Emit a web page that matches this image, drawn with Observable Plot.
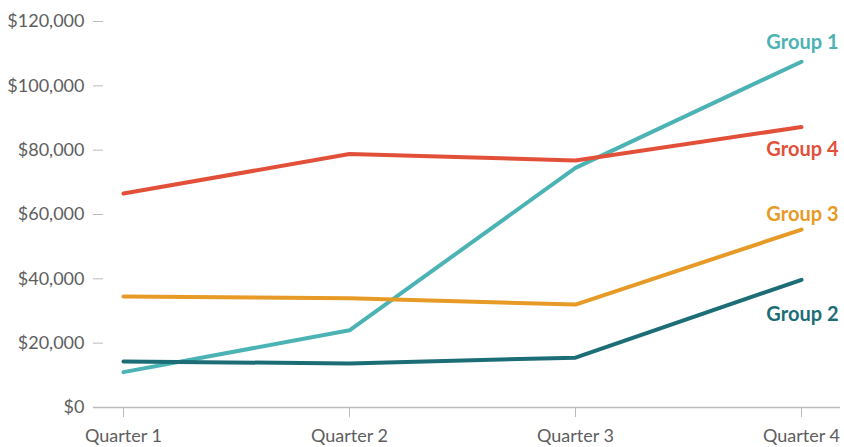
<!DOCTYPE html>
<html>
<head>
<meta charset="utf-8">
<script src="https://cdn.jsdelivr.net/npm/d3@7"></script>
<script src="https://cdn.jsdelivr.net/npm/@observablehq/plot@0.6"></script>
<style>
  html, body { margin: 0; padding: 0; background: #fff; }
  #chart svg { display: block; }
</style>
</head>
<body>
<div id="chart"></div>
<script>
// Quarterly totals per group (USD)
const quarters = ["Quarter 1", "Quarter 2", "Quarter 3", "Quarter 4"];
const groups = ["Group 1", "Group 2", "Group 3", "Group 4"];
const group1 = [11000, 24000, 74500, 107500];
const group2 = [14300, 13700, 15500, 39700];
const group3 = [34500, 34000, 32000, 55300];
const group4 = [66500, 78800, 76800, 87200];
const yTicks = [0, 20000, 40000, 60000, 80000, 100000, 120000];

const seriesValues = [group1, group2, group3, group4];
const colors = ["#4cb3b4", "#1c6d76", "#e79a26", "#e2503a"];
// vertical nudge of each end label relative to its line's last point
const labelDy = [-19, 35, -15, 23];

const rows = groups.flatMap((g, i) =>
  quarters.map((q, j) => ({group: g, quarter: q, value: seriesValues[i][j]}))
);
const ends = groups.map((g, i) => ({
  group: g, quarter: quarters[quarters.length - 1],
  value: seriesValues[i][quarters.length - 1], dy: labelDy[i]
}));

const fmt = d3.format("$,");

const chart = Plot.plot({
  width: 844,
  height: 447,
  marginLeft: 103,
  marginRight: 4,
  marginTop: 21,
  marginBottom: 40,
  style: {fontFamily: "Lato, sans-serif", fontSize: "18px", color: "#555", background: "#fff"},
  x: {type: "point", domain: quarters, padding: 0, insetLeft: 20, insetRight: 39, label: null},
  y: {domain: [0, 120000], label: null},
  color: {domain: groups, range: colors},
  marks: [
    Plot.axisY({ticks: yTicks, tickFormat: fmt, tickSize: 10, tickPadding: 9,
      stroke: "#bbb", fill: "#5e5e5e", fontSize: 18, fontWeight: 400}),
    Plot.axisX({tickSize: 10, tickPadding: 12, stroke: "#bbb", fill: "#5e5e5e",
      fontSize: 18, fontWeight: 400}),
    Plot.ruleY([0], {stroke: "#bbb", strokeWidth: 1.5, insetLeft: -10}),
    Plot.line(rows, {x: "quarter", y: "value", z: "group", stroke: "group",
      strokeWidth: 4, strokeLinejoin: "round", strokeLinecap: "round"}),
    ...ends.map(d => Plot.text([d], {x: "quarter", y: "value", text: "group",
      fill: "group", textAnchor: "end", dx: 37, dy: d.dy,
      fontSize: 20, fontWeight: 700}))
  ]
});

document.getElementById("chart").appendChild(chart);
</script>
</body>
</html>
